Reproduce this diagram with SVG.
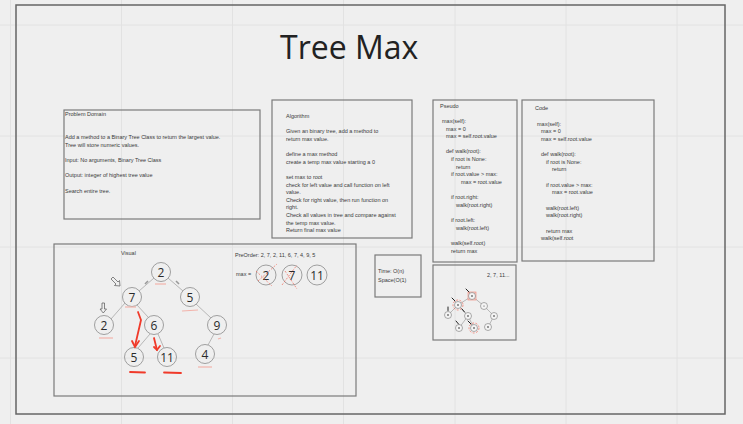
<svg xmlns="http://www.w3.org/2000/svg" width="743" height="424" viewBox="0 0 743 424">
<style>
.grid{stroke:#e2e2e2;stroke-width:1}
.box{fill:none;stroke:#7a7a7a;stroke-width:1.2}
.t{font-family:"Liberation Sans",Arial,sans-serif;font-size:5.5px;fill:#3a3a3a}
.title{font-family:"Open Sans","Noto Sans",sans-serif;font-size:32px;fill:#222}
.node{fill:none;stroke:#8a8a8a;stroke-width:0.8}
.num{font-family:"Open Sans","Noto Sans",sans-serif;font-size:12px;fill:#2a2a2a;text-anchor:middle}
.edge{stroke:#b0b0b0;stroke-width:0.9;fill:none}
.pink{stroke:#f2b3ab;stroke-width:1.2;fill:none}
.red{stroke:#f03a2a;stroke-width:1.8;fill:none;stroke-linecap:round}
.dash{stroke:#f06a5a;stroke-width:0.7;stroke-dasharray:2 1.5;fill:none}
.mnode{fill:#f4f4f4;stroke:#777;stroke-width:0.6}
.tick{stroke:#222;stroke-width:1;stroke-linecap:round}
</style>
<rect width="743" height="424" fill="#efefef"/>
<g id="grid">
<line class="grid" x1="10.5" y1="0" x2="10.5" y2="424"/>
<line class="grid" x1="121.5" y1="0" x2="121.5" y2="424"/>
<line class="grid" x1="232.5" y1="0" x2="232.5" y2="424"/>
<line class="grid" x1="343.5" y1="0" x2="343.5" y2="424"/>
<line class="grid" x1="455" y1="0" x2="455" y2="424"/>
<line class="grid" x1="566" y1="0" x2="566" y2="424"/>
<line class="grid" x1="677" y1="0" x2="677" y2="424"/>
<line class="grid" x1="0" y1="25" x2="743" y2="25"/>
<line class="grid" x1="0" y1="136" x2="743" y2="136"/>
<line class="grid" x1="0" y1="247" x2="743" y2="247"/>
<line class="grid" x1="0" y1="358" x2="743" y2="358"/>
</g>
<rect x="16" y="5" width="709" height="409" fill="none" stroke="#666" stroke-width="1.5"/>
<text class="title" x="280" y="59">Tree Max</text>

<g id="problem-domain">
<rect class="box" x="64" y="110" width="196" height="109"/>
<text class="t" x="65" y="116">Problem Domain</text>
<text class="t" x="65" y="139">Add a method to a Binary Tree Class to return the largest value.</text>
<text class="t" x="65" y="147">Tree will store numeric values.</text>
<text class="t" x="65" y="162">Input: No arguments, Binary Tree Class</text>
<text class="t" x="65" y="177">Output: integer of highest tree value</text>
<text class="t" x="65" y="193">Search entire tree.</text>
</g>

<g id="algorithm">
<rect class="box" x="272" y="100" width="140" height="138"/>
<text class="t" x="286" y="118">Algorithm</text>
<text class="t" x="286" y="133">Given an  binary tree, add a method to</text>
<text class="t" x="286" y="141">return max value.</text>
<text class="t" x="286" y="156">define a max method</text>
<text class="t" x="286" y="164">create a temp max value starting a 0</text>
<text class="t" x="286" y="179">set max to root</text>
<text class="t" x="286" y="187">check for left value and call function on left</text>
<text class="t" x="286" y="194">value.</text>
<text class="t" x="286" y="202">Check for right value, then run function on</text>
<text class="t" x="286" y="209">right.</text>
<text class="t" x="286" y="217">Check all values in tree and compare against</text>
<text class="t" x="286" y="225">the temp max value.</text>
<text class="t" x="286" y="232">Return final max value</text>
</g>

<g id="pseudo">
<rect class="box" x="433" y="100" width="84" height="162"/>
<text class="t" x="440" y="108">Pseudo</text>
<text class="t" x="442" y="123">max(self):</text>
<text class="t" x="446" y="131">max = 0</text>
<text class="t" x="446" y="138">max = self.root.value</text>
<text class="t" x="446" y="153">def walk(root):</text>
<text class="t" x="451" y="161">if root is None:</text>
<text class="t" x="456" y="169">return</text>
<text class="t" x="451" y="176">if root.value &gt; max:</text>
<text class="t" x="461" y="184">max = root.value</text>
<text class="t" x="451" y="199">if root.right:</text>
<text class="t" x="456" y="207">walk(root.right)</text>
<text class="t" x="451" y="222">if root.left:</text>
<text class="t" x="456" y="230">walk(root.left)</text>
<text class="t" x="451" y="245">walk(self.root)</text>
<text class="t" x="451" y="253">return max</text>
</g>

<g id="code">
<rect class="box" x="522" y="100" width="132" height="161"/>
<text class="t" x="535" y="110">Code</text>
<text class="t" x="537" y="126">max(self):</text>
<text class="t" x="541" y="133">max = 0</text>
<text class="t" x="541" y="141">max = self.root.value</text>
<text class="t" x="541" y="156">def walk(root):</text>
<text class="t" x="546" y="164">if root is None:</text>
<text class="t" x="552" y="171">return</text>
<text class="t" x="546" y="187">if root.value &gt; max:</text>
<text class="t" x="552" y="194">max = root.value</text>
<text class="t" x="546" y="210">walk(root.left)</text>
<text class="t" x="546" y="217">walk(root.right)</text>
<text class="t" x="546" y="233">return max</text>
<text class="t" x="541" y="240">walk(self.root</text>
</g>

<g id="complexity">
<rect class="box" x="375" y="255" width="46" height="42"/>
<text class="t" x="378" y="273">Time: O(n)</text>
<text class="t" x="378" y="282">Space(O(1)</text>
</g>

<g id="visual">
<rect class="box" x="54" y="244" width="302" height="152"/>
<text class="t" x="121" y="255">Visual</text>
<text class="t" x="235" y="257">PreOrder:  2, 7, 2, 11, 6, 7, 4, 9, 5</text>
<text class="t" x="236" y="276">max =</text>
</g>

<g id="connectors">
<line class="edge" x1="154" y1="278" x2="139" y2="291"/>
<line class="edge" x1="168" y1="278" x2="183" y2="291"/>
<line class="edge" x1="125" y1="303" x2="111" y2="319"/>
<line class="edge" x1="137" y1="305" x2="148" y2="317"/>
<line class="edge" x1="196" y1="304" x2="211" y2="318"/>
<line class="edge" x1="150" y1="334" x2="138" y2="348"/>
<line class="edge" x1="158" y1="334" x2="164" y2="348"/>
<line class="edge" x1="214" y1="334" x2="208" y2="345"/>
<line x1="145" y1="284" x2="148" y2="281" stroke="#999" stroke-width="1.6"/>
<line x1="176" y1="281" x2="179" y2="284" stroke="#999" stroke-width="1.6"/>
<line class="edge" x1="472" y1="296" x2="458" y2="305"/>
<line class="edge" x1="472" y1="296" x2="484" y2="306"/>
<line class="edge" x1="458" y1="305" x2="448" y2="315"/>
<line class="edge" x1="458" y1="305" x2="468" y2="316"/>
<line class="edge" x1="484" y1="306" x2="494" y2="316"/>
<line class="edge" x1="468" y1="316" x2="459" y2="328"/>
<line class="edge" x1="468" y1="316" x2="474" y2="328"/>
<line class="edge" x1="494" y1="316" x2="488" y2="327"/>
</g>

<g id="node-root"><circle class="node" cx="161" cy="272" r="9.5"/><text class="num" x="161" y="276.5">2</text><line class="pink" x1="155" y1="284" x2="166" y2="284"/></g>
<g id="node-7"><circle class="node" cx="132" cy="297" r="9.5"/><text class="num" x="132" y="301.5">7</text><line class="pink" x1="125" y1="307" x2="136" y2="307"/></g>
<g id="node-5r"><circle class="node" cx="190" cy="297" r="9.5"/><text class="num" x="190" y="301.5">5</text><line class="pink" x1="182" y1="311" x2="198" y2="310"/></g>
<g id="node-2l"><circle class="node" cx="104" cy="325" r="9.5"/><text class="num" x="104" y="329.5">2</text><line class="pink" x1="99" y1="338" x2="113" y2="338"/></g>
<g id="node-6"><circle class="node" cx="154" cy="325" r="9.5"/><text class="num" x="154" y="329.5">6</text></g>
<g id="node-9"><circle class="node" cx="217" cy="325" r="9.5"/><text class="num" x="217" y="329.5">9</text><line class="pink" x1="218" y1="339" x2="221" y2="338"/></g>
<g id="node-5b"><circle class="node" cx="134" cy="357" r="9.5"/><text class="num" x="134" y="361.5">5</text><line class="red" x1="130" y1="372" x2="145" y2="372.5"/></g>
<g id="node-11"><circle class="node" cx="167" cy="357" r="9.5"/><text class="num" x="167" y="361.5">11</text><line class="red" x1="164" y1="372.5" x2="181" y2="373"/></g>
<g id="node-4"><circle class="node" cx="205" cy="354" r="9.5"/><text class="num" x="205" y="358.5">4</text><line class="pink" x1="198" y1="367" x2="212" y2="367"/></g>

<g id="red-arrows">
<path class="red" d="M138 312 L141 320 L135 346"/>
<path class="red" d="M132 341 L135 347 L139 341"/>
<path class="red" d="M154 338 L157 350"/>
<path class="red" d="M154 347 L157 350 L160 346"/>
</g>

<g id="hand-arrows" fill="none" stroke="#555" stroke-width="0.7">
<path d="M111 279 L113 277 L118 282 L119.5 280.5 L120 286 L114.5 285.5 L116 284 Z"/>
<path d="M102 303 L104.5 303 L104.5 309 L106.5 309 L103.25 313 L100 309 L102 309 Z"/>
</g>

<g id="max-values">
<circle class="node" cx="266" cy="275" r="10"/><text class="num" x="266" y="279.5">2</text>
<circle class="node" cx="292" cy="275" r="10"/><text class="num" x="292" y="279.5">7</text>
<circle class="node" cx="317" cy="275" r="10"/><text class="num" x="317" y="279.5">11</text>
<line class="dash" x1="256" y1="271" x2="272" y2="286"/>
<line class="dash" x1="258" y1="281" x2="277" y2="264"/>
<line class="dash" x1="282" y1="285" x2="297" y2="265"/>
<line class="dash" x1="285" y1="271" x2="297" y2="289"/>
</g>

<g id="mini-tree">
<rect class="box" x="433" y="265" width="83" height="75"/>
<text class="t" x="487" y="277">2, 7, 11...</text>
<rect x="468" y="292" width="8" height="8" fill="#f6d2cd" stroke="#f08070" stroke-width="0.6"/>
<circle class="mnode" cx="472" cy="296" r="3.5"/>
<circle class="mnode" cx="458" cy="305" r="3.5"/>
<circle class="mnode" cx="484" cy="306" r="3.5"/>
<circle class="mnode" cx="448" cy="315" r="3.5"/>
<circle class="mnode" cx="468" cy="316" r="3.5"/>
<circle class="mnode" cx="494" cy="316" r="3.5"/>
<circle class="mnode" cx="459" cy="328" r="3.5"/>
<circle class="mnode" cx="474" cy="328" r="3.5"/>
<circle class="mnode" cx="488" cy="327" r="3.5"/>
<g fill="#222">
<circle cx="472" cy="296" r="0.8"/><circle cx="458" cy="305" r="0.8"/><circle cx="484" cy="306" r="0.5"/>
<circle cx="448" cy="315" r="0.8"/><circle cx="468" cy="316" r="0.8"/><circle cx="494" cy="316" r="0.8"/>
<circle cx="459" cy="328" r="0.8"/><circle cx="474" cy="328" r="0.8"/><circle cx="488" cy="327" r="0.8"/>
</g>
<circle class="dash" cx="458" cy="305" r="5"/>
<circle class="dash" cx="474" cy="328" r="5"/>
<line class="tick" x1="466" y1="289" x2="469" y2="292"/>
<line class="tick" x1="452" y1="298" x2="455" y2="301"/>
<line class="tick" x1="448" y1="307" x2="448" y2="310.5"/>
<line class="tick" x1="462" y1="309" x2="464.5" y2="312"/>
<line class="tick" x1="456" y1="321" x2="458.5" y2="324"/>
<line class="tick" x1="468" y1="321" x2="471" y2="324"/>
</g>
</svg>
